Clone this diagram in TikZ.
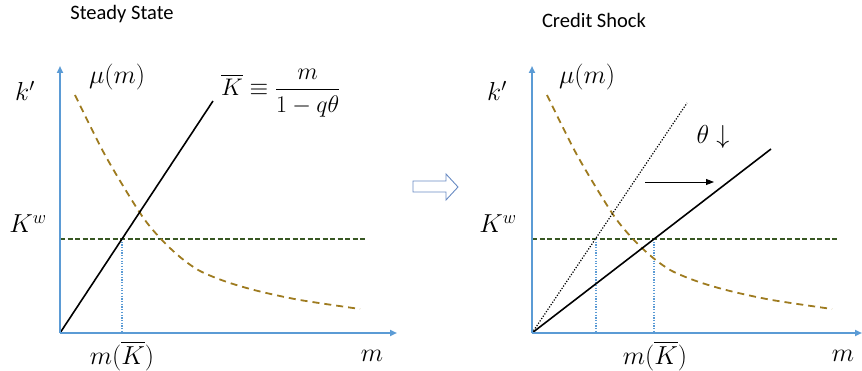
\RequirePackage{fix-cm}
\documentclass[tikz,border=0pt]{standalone}
\usepackage{fontspec}
\usepackage{amsmath}
\newfontfamily\titlefont{Carlito}
\usetikzlibrary{arrows.meta}
\definecolor{axisblue}{HTML}{5B9BD5}
\definecolor{curvebrown}{HTML}{9E7B1F}
\definecolor{kwgreen}{HTML}{385723}
\definecolor{blockblue}{HTML}{6A8CC4}
\tikzset{
  axis/.style={draw=axisblue, line width=1.8pt, -{Triangle[length=7pt,width=6pt]}},
  muline/.style={draw=curvebrown, line width=1.8pt, dash pattern=on 7pt off 5pt},
  kwline/.style={draw=kwgreen, line width=1.3pt, dash pattern=on 5pt off 2.5pt},
  kbar/.style={draw=black, line width=1.6pt},
  kold/.style={draw=black, line width=1.2pt, dash pattern=on 1.2pt off 1.6pt},
  drop/.style={draw=axisblue, line width=1.2pt, dash pattern=on 1.2pt off 1.5pt},
  lab/.style={font=\fontsize{26}{30}\selectfont, inner sep=0pt},
  ttl/.style={font=\titlefont\fontsize{20.5}{24}\selectfont, inner sep=0pt},
  shiftarrow/.style={draw=black, line width=0.9pt, -{Triangle[length=8pt,width=6pt]}},
  blockarrow/.style={draw=blockblue, line width=0.9pt, fill=white}
}
\begin{document}
\begin{tikzpicture}[x=1pt,y=-1pt]
\useasboundingbox (0,0) rectangle (862,371);
% ---------- left panel ----------
\coordinate (O1) at (60,333);
\coordinate (Y1) at (60,66);
\coordinate (X1) at (397,333);
\coordinate (E1) at (213,101);
\coordinate (W1a) at (60,239);
\coordinate (W1b) at (367,239);
\coordinate (D1t) at (122,239);
\coordinate (D1b) at (122,333);
\draw[kwline] (W1a) -- (W1b);
\draw[drop] (D1t) -- (D1b);
\draw[muline] plot[smooth, tension=0.5] coordinates {(75,95) (105,155) (140,213) (160,238) (180,257) (200,271) (227,282) (258,291) (300,300) (360,309)};
\draw[kbar] (O1) -- (E1);
\draw[axis] (O1) -- (Y1);
\draw[axis] (O1) -- (X1);
\node[ttl] (t1) at (122,14) {Steady State};
\node[lab] (kp1) at (25,91) {$k'$};
\node[lab] (kw1) at (28,224) {$K^{w}$};
\node[lab] (mu1) at (117,77) {$\mu(m)$};
\node[lab, anchor=west, font=\fontsize{24}{28}\selectfont] (kb1) at (221,93) {$\overline{K}\equiv\dfrac{m}{1-q\theta}$};
\node[lab] (mk1) at (122,356) {$m(\overline{K})$};
\node[lab] (m1) at (372,356) {$m$};
% ---------- middle block arrow ----------
\draw[blockarrow] (413,181) -- (446,181) -- (446,174) -- (458,187) -- (446,200) -- (446,192) -- (413,192) -- cycle;
% ---------- right panel ----------
\coordinate (O2) at (532,333);
\coordinate (Y2) at (532,66);
\coordinate (X2) at (862,333);
\coordinate (E2old) at (687,103);
\coordinate (E2) at (771,149);
\coordinate (W2a) at (532,239);
\coordinate (W2b) at (838,239);
\coordinate (D2t) at (596,239);
\coordinate (D2b) at (596,333);
\coordinate (D3t) at (654,239);
\coordinate (D3b) at (654,333);
\coordinate (S2a) at (645,182);
\coordinate (S2b) at (714,182);
\draw[kwline] (W2a) -- (W2b);
\draw[drop] (D2t) -- (D2b);
\draw[drop] (D3t) -- (D3b);
\draw[muline, xshift=472pt] plot[smooth, tension=0.5] coordinates {(75,95) (105,155) (140,213) (160,238) (180,257) (200,271) (227,282) (258,291) (300,300) (360,309)};
\draw[kold] (O2) -- (E2old);
\draw[kbar] (O2) -- (E2);
\draw[shiftarrow] (S2a) -- (S2b);
\draw[axis] (O2) -- (Y2);
\draw[axis] (O2) -- (X2);
\node[ttl] (t2) at (594,20) {Credit Shock};
\node[lab] (kp2) at (497,91) {$k'$};
\node[lab] (kw2) at (498,224) {$K^{w}$};
\node[lab] (mu2) at (587,77) {$\mu(m)$};
\node[lab] (th2) at (713,137) {$\theta\downarrow$};
\node[lab] (mk2) at (655,356) {$m(\overline{K})$};
\node[lab] (m2) at (843,356) {$m$};
\end{tikzpicture}
\end{document}
